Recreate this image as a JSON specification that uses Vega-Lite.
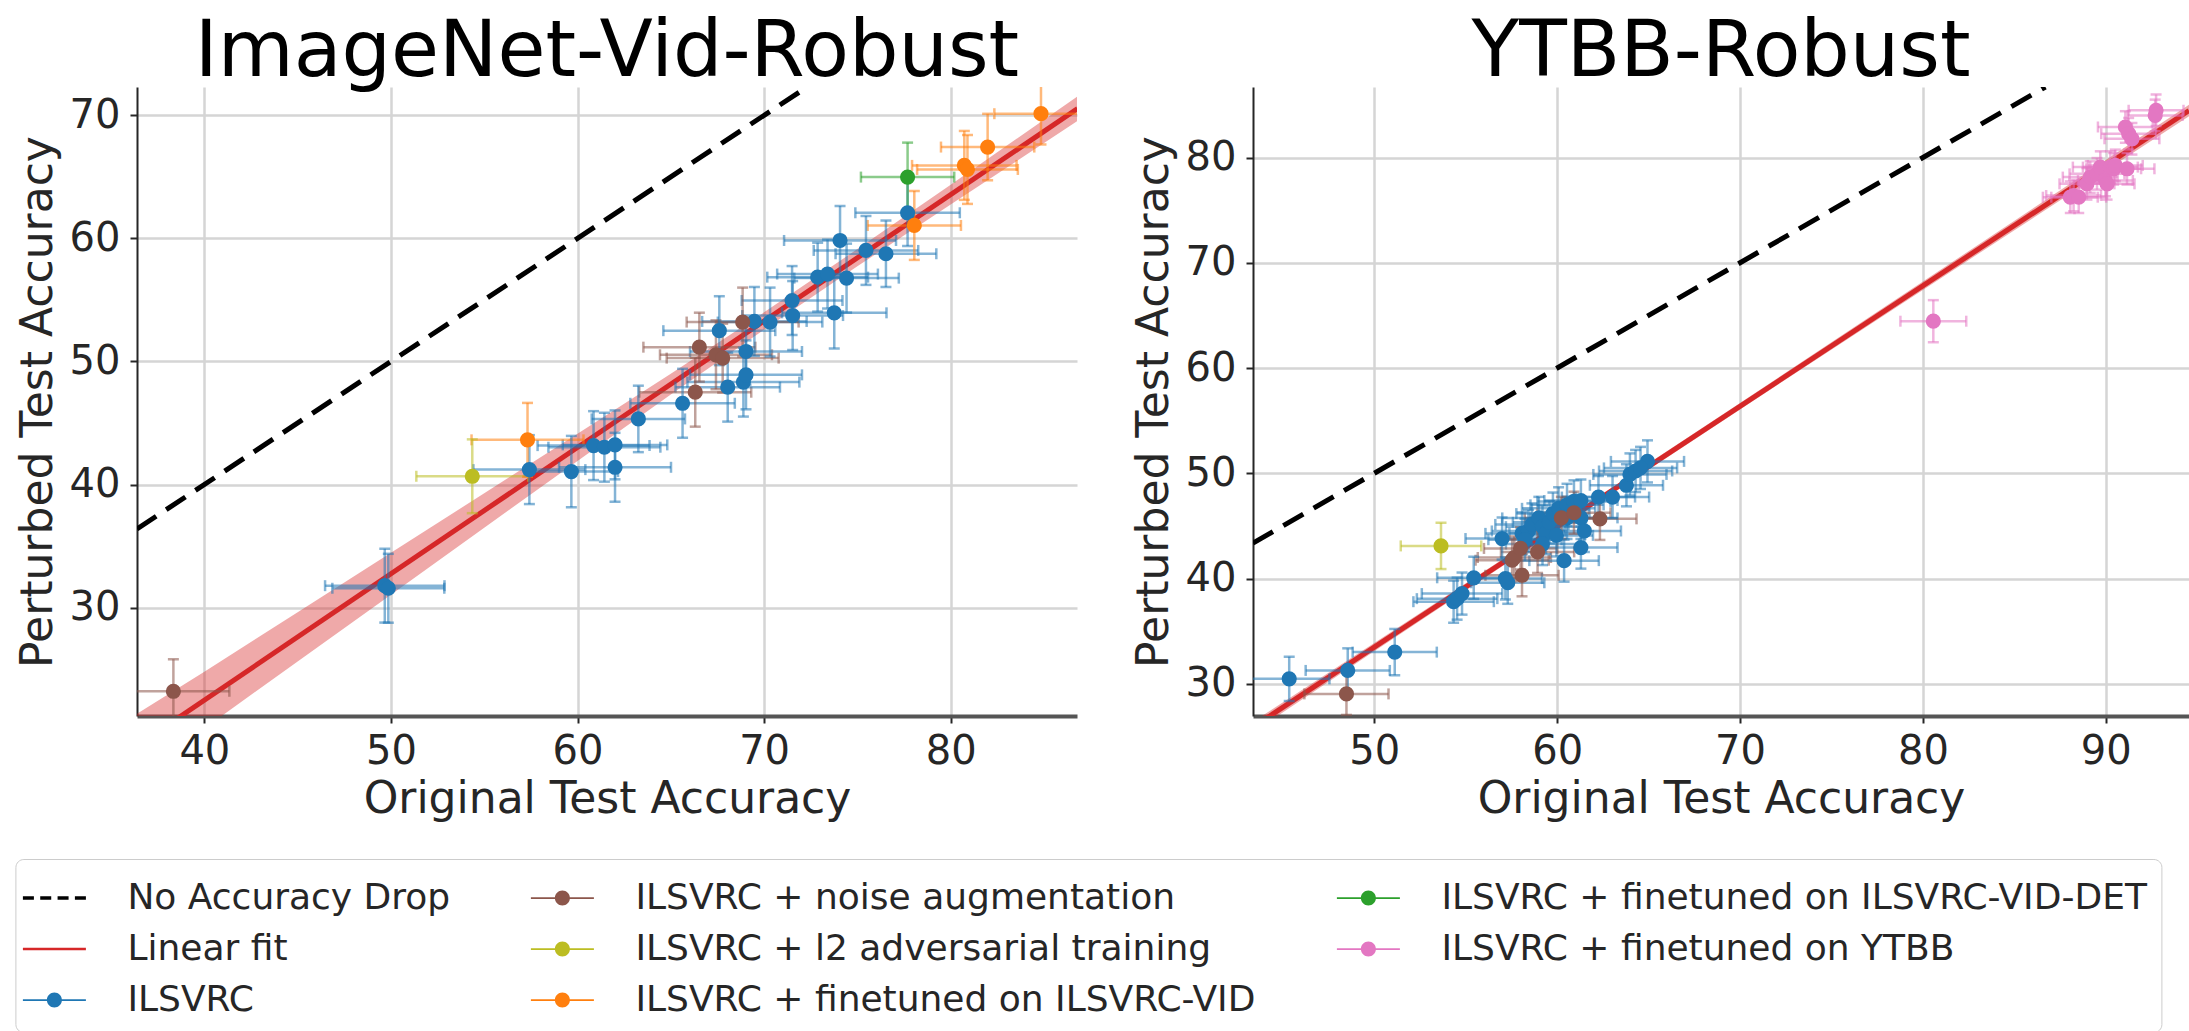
{
  "$schema": "https://vega.github.io/schema/vega-lite/v6.json",
  "usermeta": {"embedOptions": {"actions": false}},
  "background": "white",
  "padding": {"left": 14, "top": 14, "right": 0, "bottom": 0},
  "config": {
    "font": "DejaVu Sans",
    "view": {"stroke": null},
    "concat": {"spacing": 55},
    "legend": {"symbolOpacity": 1},
    "title": {"font": "DejaVu Sans", "fontSize": 78, "fontWeight": "normal", "color": "#000000", "baseline": "alphabetic", "offset": -5},
    "axis": {"labelFont": "DejaVu Sans", "labelFontSize": 40, "labelColor": "#262626", "titleFont": "DejaVu Sans", "titleFontSize": 44, "titleFontWeight": "normal", "titleColor": "#262626", "gridColor": "#d5d5d5", "gridWidth": 2.5, "tickColor": "#262626", "tickSize": 7, "tickWidth": 2, "labelPadding": 8, "domainColor": "#262626", "domainWidth": 2, "labelOverlap": false},
    "axisX": {"domainColor": "#555555", "domainWidth": 4, "titlePadding": 6},
    "axisY": {"titlePadding": 9, "labelPadding": 10}
  },
  "datasets": {
    "legendItems": [
      {"series": "No Accuracy Drop"},
      {"series": "Linear fit"},
      {"series": "ILSVRC"},
      {"series": "ILSVRC + noise augmentation"},
      {"series": "ILSVRC + l2 adversarial training"},
      {"series": "ILSVRC + finetuned on ILSVRC-VID"},
      {"series": "ILSVRC + finetuned on ILSVRC-VID-DET"},
      {"series": "ILSVRC + finetuned on YTBB"}
    ],
    "bandL": [
      {"x": 36.39, "y": 16.17, "hi": 21.37},
      {"x": 40, "y": 20.18, "hi": 24.78},
      {"x": 45, "y": 25.62, "hi": 29.62},
      {"x": 50, "y": 31.05, "hi": 34.45},
      {"x": 55, "y": 36.49, "hi": 39.29},
      {"x": 60, "y": 41.92, "hi": 44.12},
      {"x": 65, "y": 47.31, "hi": 49.01},
      {"x": 70, "y": 52.59, "hi": 53.99},
      {"x": 75, "y": 57.73, "hi": 59.13},
      {"x": 80, "y": 62.76, "hi": 64.36},
      {"x": 86.8, "y": 69.54, "hi": 71.54}
    ],
    "fitL": [{"x": 36.39, "y": 18.77}, {"x": 86.8, "y": 70.54}],
    "diagL": [{"x": 36.39, "y": 36.39}, {"x": 72.3, "y": 72.3}],
    "bandR": [
      {"x": 43.37, "y": 25.39, "hi": 26.39},
      {"x": 50, "y": 33.08, "hi": 33.88},
      {"x": 60, "y": 44.62, "hi": 45.22},
      {"x": 70, "y": 56.07, "hi": 56.67},
      {"x": 80, "y": 67.42, "hi": 68.22},
      {"x": 90, "y": 78.76, "hi": 79.76},
      {"x": 94.55, "y": 83.92, "hi": 85.02}
    ],
    "fitR": [{"x": 43.37, "y": 25.89}, {"x": 94.55, "y": 84.47}],
    "diagR": [{"x": 43.37, "y": 43.37}, {"x": 86.7, "y": 86.7}],
    "ptsL": [
      {"series": "ILSVRC", "x": 49.67, "y": 31.78, "xe": 3.2, "ye": 3.0},
      {"series": "ILSVRC", "x": 49.86, "y": 31.57, "xe": 3.0, "ye": 2.8},
      {"series": "ILSVRC", "x": 57.42, "y": 41.21, "xe": 3.0, "ye": 2.8},
      {"series": "ILSVRC", "x": 59.67, "y": 41.05, "xe": 2.5, "ye": 2.9},
      {"series": "ILSVRC", "x": 60.86, "y": 43.16, "xe": 3.0, "ye": 2.8},
      {"series": "ILSVRC", "x": 61.44, "y": 43.03, "xe": 3.0, "ye": 2.8},
      {"series": "ILSVRC", "x": 62.01, "y": 43.22, "xe": 2.8, "ye": 2.8},
      {"series": "ILSVRC", "x": 62.01, "y": 41.4, "xe": 3.0, "ye": 2.8},
      {"series": "ILSVRC", "x": 63.26, "y": 45.33, "xe": 2.5, "ye": 2.7},
      {"series": "ILSVRC", "x": 65.63, "y": 46.6, "xe": 2.8, "ye": 2.8},
      {"series": "ILSVRC", "x": 68.05, "y": 47.91, "xe": 2.8, "ye": 2.8},
      {"series": "ILSVRC", "x": 68.89, "y": 48.32, "xe": 3.0, "ye": 2.8},
      {"series": "ILSVRC", "x": 69.03, "y": 48.91, "xe": 3.0, "ye": 2.8},
      {"series": "ILSVRC", "x": 69.03, "y": 50.81, "xe": 3.0, "ye": 2.7},
      {"series": "ILSVRC", "x": 67.6, "y": 52.5, "xe": 3.0, "ye": 2.8},
      {"series": "ILSVRC", "x": 69.48, "y": 53.25, "xe": 2.8, "ye": 2.8},
      {"series": "ILSVRC", "x": 70.32, "y": 53.2, "xe": 2.8, "ye": 2.8},
      {"series": "ILSVRC", "x": 71.5, "y": 54.95, "xe": 2.7, "ye": 2.8},
      {"series": "ILSVRC", "x": 71.53, "y": 53.73, "xe": 2.7, "ye": 2.8},
      {"series": "ILSVRC", "x": 73.76, "y": 53.95, "xe": 2.8, "ye": 2.9},
      {"series": "ILSVRC", "x": 72.87, "y": 56.85, "xe": 2.7, "ye": 2.8},
      {"series": "ILSVRC", "x": 73.4, "y": 57.1, "xe": 2.7, "ye": 2.8},
      {"series": "ILSVRC", "x": 74.42, "y": 56.77, "xe": 2.8, "ye": 2.8},
      {"series": "ILSVRC", "x": 74.07, "y": 59.83, "xe": 3.0, "ye": 2.8},
      {"series": "ILSVRC", "x": 75.46, "y": 59.02, "xe": 2.8, "ye": 2.8},
      {"series": "ILSVRC", "x": 76.53, "y": 58.75, "xe": 2.7, "ye": 2.7},
      {"series": "ILSVRC", "x": 77.69, "y": 62.08, "xe": 2.8, "ye": 2.7},
      {"series": "ILSVRC + noise augmentation", "x": 38.34, "y": 23.2, "xe": 3.0, "ye": 2.6},
      {"series": "ILSVRC + noise augmentation", "x": 66.31, "y": 47.5, "xe": 3.0, "ye": 2.8},
      {"series": "ILSVRC + noise augmentation", "x": 66.53, "y": 51.16, "xe": 3.0, "ye": 2.8},
      {"series": "ILSVRC + noise augmentation", "x": 67.42, "y": 50.54, "xe": 3.0, "ye": 2.8},
      {"series": "ILSVRC + noise augmentation", "x": 67.78, "y": 50.27, "xe": 3.0, "ye": 2.8},
      {"series": "ILSVRC + noise augmentation", "x": 68.85, "y": 53.2, "xe": 3.0, "ye": 2.8},
      {"series": "ILSVRC + l2 adversarial training", "x": 54.36, "y": 40.67, "xe": 3.0, "ye": 3.0},
      {"series": "ILSVRC + finetuned on ILSVRC-VID", "x": 57.32, "y": 43.63, "xe": 3.0, "ye": 3.0},
      {"series": "ILSVRC + finetuned on ILSVRC-VID", "x": 78.05, "y": 61.05, "xe": 2.5, "ye": 2.8},
      {"series": "ILSVRC + finetuned on ILSVRC-VID", "x": 80.73, "y": 65.93, "xe": 2.8, "ye": 2.8},
      {"series": "ILSVRC + finetuned on ILSVRC-VID", "x": 80.9, "y": 65.6, "xe": 2.7, "ye": 2.8},
      {"series": "ILSVRC + finetuned on ILSVRC-VID", "x": 81.98, "y": 67.42, "xe": 2.5, "ye": 2.7},
      {"series": "ILSVRC + finetuned on ILSVRC-VID", "x": 84.84, "y": 70.13, "xe": 2.5, "ye": 2.5},
      {"series": "ILSVRC + finetuned on ILSVRC-VID-DET", "x": 77.69, "y": 64.98, "xe": 2.5, "ye": 2.8}
    ],
    "ptsR": [
      {"series": "ILSVRC", "x": 45.35, "y": 30.47, "xe": 2.2, "ye": 2.1},
      {"series": "ILSVRC", "x": 48.55, "y": 31.27, "xe": 2.3, "ye": 2.1},
      {"series": "ILSVRC", "x": 51.12, "y": 33.01, "xe": 2.3, "ye": 2.2},
      {"series": "ILSVRC", "x": 54.34, "y": 37.8, "xe": 2.2, "ye": 2.0},
      {"series": "ILSVRC", "x": 54.53, "y": 38.09, "xe": 2.2, "ye": 2.0},
      {"series": "ILSVRC", "x": 54.8, "y": 38.57, "xe": 2.2, "ye": 2.0},
      {"series": "ILSVRC", "x": 55.44, "y": 40.07, "xe": 2.0, "ye": 2.0},
      {"series": "ILSVRC", "x": 56.99, "y": 43.8, "xe": 2.0, "ye": 2.0},
      {"series": "ILSVRC", "x": 57.17, "y": 40.0, "xe": 2.0, "ye": 2.0},
      {"series": "ILSVRC", "x": 57.3, "y": 39.6, "xe": 2.0, "ye": 2.0},
      {"series": "ILSVRC", "x": 58.08, "y": 44.29, "xe": 2.0, "ye": 2.0},
      {"series": "ILSVRC", "x": 60.38, "y": 41.7, "xe": 1.9, "ye": 2.0},
      {"series": "ILSVRC", "x": 61.3, "y": 42.94, "xe": 2.0, "ye": 2.0},
      {"series": "ILSVRC", "x": 58.43, "y": 44.52, "xe": 2.0, "ye": 2.0},
      {"series": "ILSVRC", "x": 58.62, "y": 45.14, "xe": 2.0, "ye": 2.0},
      {"series": "ILSVRC", "x": 59.0, "y": 45.76, "xe": 2.0, "ye": 2.0},
      {"series": "ILSVRC", "x": 59.2, "y": 44.93, "xe": 2.0, "ye": 2.0},
      {"series": "ILSVRC", "x": 59.39, "y": 44.31, "xe": 2.0, "ye": 2.0},
      {"series": "ILSVRC", "x": 59.58, "y": 45.34, "xe": 2.0, "ye": 2.0},
      {"series": "ILSVRC", "x": 59.77, "y": 46.17, "xe": 2.0, "ye": 2.0},
      {"series": "ILSVRC", "x": 60.08, "y": 46.67, "xe": 2.0, "ye": 2.0},
      {"series": "ILSVRC", "x": 60.54, "y": 47.0, "xe": 2.0, "ye": 2.0},
      {"series": "ILSVRC", "x": 60.92, "y": 47.33, "xe": 2.0, "ye": 2.0},
      {"series": "ILSVRC", "x": 61.3, "y": 47.41, "xe": 2.0, "ye": 2.0},
      {"series": "ILSVRC", "x": 61.3, "y": 45.76, "xe": 2.0, "ye": 2.0},
      {"series": "ILSVRC", "x": 61.49, "y": 44.52, "xe": 2.0, "ye": 2.0},
      {"series": "ILSVRC", "x": 60.54, "y": 45.76, "xe": 2.0, "ye": 2.0},
      {"series": "ILSVRC", "x": 59.96, "y": 44.1, "xe": 2.0, "ye": 2.0},
      {"series": "ILSVRC", "x": 59.2, "y": 43.28, "xe": 2.0, "ye": 2.0},
      {"series": "ILSVRC", "x": 58.24, "y": 43.69, "xe": 2.0, "ye": 2.0},
      {"series": "ILSVRC", "x": 62.26, "y": 47.74, "xe": 2.0, "ye": 2.0},
      {"series": "ILSVRC", "x": 63.03, "y": 47.74, "xe": 2.0, "ye": 2.0},
      {"series": "ILSVRC", "x": 63.79, "y": 48.86, "xe": 2.0, "ye": 2.0},
      {"series": "ILSVRC", "x": 63.98, "y": 49.89, "xe": 2.0, "ye": 2.0},
      {"series": "ILSVRC", "x": 64.29, "y": 50.22, "xe": 2.0, "ye": 2.0},
      {"series": "ILSVRC", "x": 64.94, "y": 51.13, "xe": 2.0, "ye": 2.0},
      {"series": "ILSVRC", "x": 64.56, "y": 50.51, "xe": 2.0, "ye": 2.0},
      {"series": "ILSVRC + noise augmentation", "x": 48.48, "y": 29.04, "xe": 2.3, "ye": 2.0},
      {"series": "ILSVRC + noise augmentation", "x": 57.54, "y": 41.74, "xe": 2.0, "ye": 2.0},
      {"series": "ILSVRC + noise augmentation", "x": 57.66, "y": 42.0, "xe": 2.0, "ye": 2.0},
      {"series": "ILSVRC + noise augmentation", "x": 58.0, "y": 42.86, "xe": 2.0, "ye": 2.0},
      {"series": "ILSVRC + noise augmentation", "x": 58.08, "y": 40.31, "xe": 2.0, "ye": 2.0},
      {"series": "ILSVRC + noise augmentation", "x": 58.93, "y": 42.53, "xe": 2.0, "ye": 2.0},
      {"series": "ILSVRC + noise augmentation", "x": 60.23, "y": 45.76, "xe": 2.0, "ye": 2.0},
      {"series": "ILSVRC + noise augmentation", "x": 60.92, "y": 46.25, "xe": 2.0, "ye": 2.0},
      {"series": "ILSVRC + noise augmentation", "x": 62.34, "y": 45.67, "xe": 2.0, "ye": 2.0},
      {"series": "ILSVRC + l2 adversarial training", "x": 53.65, "y": 43.1, "xe": 2.2, "ye": 2.2},
      {"series": "ILSVRC + finetuned on YTBB", "x": 80.57, "y": 64.45, "xe": 1.8, "ye": 2.0},
      {"series": "ILSVRC + finetuned on YTBB", "x": 88.06, "y": 76.23, "xe": 1.5, "ye": 1.5},
      {"series": "ILSVRC + finetuned on YTBB", "x": 88.24, "y": 76.39, "xe": 1.5, "ye": 1.5},
      {"series": "ILSVRC + finetuned on YTBB", "x": 88.52, "y": 76.23, "xe": 1.5, "ye": 1.5},
      {"series": "ILSVRC + finetuned on YTBB", "x": 88.97, "y": 77.5, "xe": 1.5, "ye": 1.5},
      {"series": "ILSVRC + finetuned on YTBB", "x": 89.15, "y": 78.14, "xe": 1.5, "ye": 1.5},
      {"series": "ILSVRC + finetuned on YTBB", "x": 89.52, "y": 78.45, "xe": 1.5, "ye": 1.5},
      {"series": "ILSVRC + finetuned on YTBB", "x": 89.7, "y": 79.09, "xe": 1.5, "ye": 1.5},
      {"series": "ILSVRC + finetuned on YTBB", "x": 89.98, "y": 77.82, "xe": 1.5, "ye": 1.5},
      {"series": "ILSVRC + finetuned on YTBB", "x": 90.07, "y": 77.5, "xe": 1.5, "ye": 1.5},
      {"series": "ILSVRC + finetuned on YTBB", "x": 90.25, "y": 79.09, "xe": 1.5, "ye": 1.5},
      {"series": "ILSVRC + finetuned on YTBB", "x": 90.43, "y": 78.93, "xe": 1.5, "ye": 1.5},
      {"series": "ILSVRC + finetuned on YTBB", "x": 90.52, "y": 79.25, "xe": 1.5, "ye": 1.5},
      {"series": "ILSVRC + finetuned on YTBB", "x": 91.16, "y": 78.93, "xe": 1.5, "ye": 1.5},
      {"series": "ILSVRC + finetuned on YTBB", "x": 91.07, "y": 82.9, "xe": 1.5, "ye": 1.5},
      {"series": "ILSVRC + finetuned on YTBB", "x": 91.25, "y": 82.26, "xe": 1.5, "ye": 1.5},
      {"series": "ILSVRC + finetuned on YTBB", "x": 91.43, "y": 81.78, "xe": 1.5, "ye": 1.5},
      {"series": "ILSVRC + finetuned on YTBB", "x": 92.75, "y": 84.49, "xe": 1.5, "ye": 1.5},
      {"series": "ILSVRC + finetuned on YTBB", "x": 92.7, "y": 84.0, "xe": 1.5, "ye": 1.5}
    ]
  },
  "hconcat": [
    {
      "title": {"text": "ImageNet-Vid-Robust"},
      "width": 940,
      "height": 629,
      "encoding": {
        "x": {"field": "x", "type": "quantitative", "scale": {"domain": [36.39, 86.77], "nice": false, "zero": false}, "axis": {"title": "Original Test Accuracy", "values": [40, 50, 60, 70, 80]}},
        "y": {"field": "y", "type": "quantitative", "scale": {"domain": [21.19, 72.3], "nice": false, "zero": false}, "axis": {"title": "Perturbed Test Accuracy", "values": [30, 40, 50, 60, 70]}}
      },
      "layer": [
        {"data": {"name": "bandL"}, "mark": {"type": "area", "color": "#d62728", "opacity": 0.4, "clip": true}, "encoding": {"y2": {"field": "hi"}}},
        {"data": {"name": "fitL"}, "mark": {"type": "line", "color": "#d62728", "strokeWidth": 5, "clip": true}, "encoding": {}},
        {"data": {"name": "diagL"}, "mark": {"type": "line", "color": "#000000", "strokeWidth": 5, "strokeDash": [23, 12], "clip": true}, "encoding": {}},
        {
          "data": {"name": "legendItems"},
          "mark": {"type": "point", "filled": true, "opacity": 0},
          "encoding": {
            "color": {
              "field": "series", "type": "nominal",
              "scale": {"domain": ["No Accuracy Drop", "Linear fit", "ILSVRC", "ILSVRC + noise augmentation", "ILSVRC + l2 adversarial training", "ILSVRC + finetuned on ILSVRC-VID", "ILSVRC + finetuned on ILSVRC-VID-DET", "ILSVRC + finetuned on YTBB"], "range": ["#000000", "#d62728", "#1f77b4", "#8c564b", "#bcbd22", "#ff7f0e", "#2ca02c", "#e377c2"]},
              "legend": {"orient": "none", "legendX": -121.6, "legendY": 772, "columns": 3, "columnPadding": 80, "rowPadding": 8, "title": null, "labelFont": "DejaVu Sans", "labelFontSize": 36, "labelColor": "#262626", "labelLimit": 0, "labelOffset": 48, "symbolSize": 2500, "symbolStrokeWidth": 0, "symbolOpacity": 1, "strokeColor": "#cccccc", "fillColor": "white", "cornerRadius": 8, "padding": 14}
            },
            "shape": {
              "field": "series", "type": "nominal",
              "scale": {"domain": ["No Accuracy Drop", "Linear fit", "ILSVRC", "ILSVRC + noise augmentation", "ILSVRC + l2 adversarial training", "ILSVRC + finetuned on ILSVRC-VID", "ILSVRC + finetuned on ILSVRC-VID-DET", "ILSVRC + finetuned on YTBB"],
                "range": [
                  "M-1.26,-0.07H-0.82V0.07H-1.26Z M-0.567,-0.07H-0.127V0.07H-0.567Z M0.127,-0.07H0.567V0.07H0.127Z M0.82,-0.07H1.26V0.07H0.82Z",
                  "M-1.26,-0.05H1.26V0.05H-1.26Z",
                  "M-1.26,-0.035H1.26V0.035H-1.26Z M0.3,0A0.3,0.3 0 1,1 -0.3,0A0.3,0.3 0 1,1 0.3,0Z",
                  "M-1.26,-0.035H1.26V0.035H-1.26Z M0.3,0A0.3,0.3 0 1,1 -0.3,0A0.3,0.3 0 1,1 0.3,0Z",
                  "M-1.26,-0.035H1.26V0.035H-1.26Z M0.3,0A0.3,0.3 0 1,1 -0.3,0A0.3,0.3 0 1,1 0.3,0Z",
                  "M-1.26,-0.035H1.26V0.035H-1.26Z M0.3,0A0.3,0.3 0 1,1 -0.3,0A0.3,0.3 0 1,1 0.3,0Z",
                  "M-1.26,-0.035H1.26V0.035H-1.26Z M0.3,0A0.3,0.3 0 1,1 -0.3,0A0.3,0.3 0 1,1 0.3,0Z",
                  "M-1.26,-0.035H1.26V0.035H-1.26Z M0.3,0A0.3,0.3 0 1,1 -0.3,0A0.3,0.3 0 1,1 0.3,0Z"
                ]},
              "legend": {"orient": "none", "legendX": -121.6, "legendY": 772, "columns": 3, "columnPadding": 80, "rowPadding": 8, "title": null, "labelFont": "DejaVu Sans", "labelFontSize": 36, "labelColor": "#262626", "labelLimit": 0, "labelOffset": 48, "symbolSize": 2500, "symbolStrokeWidth": 0, "symbolOpacity": 1, "strokeColor": "#cccccc", "fillColor": "white", "cornerRadius": 8, "padding": 14}
            }
          }
        },
        {
          "data": {"name": "ptsL"},
          "mark": {"type": "errorbar", "ticks": {"size": 11, "thickness": 2.5}, "rule": {"strokeWidth": 2.5}, "opacity": 0.55, "clip": true},
          "encoding": {"xError": {"field": "xe"}, "color": {"field": "series", "type": "nominal", "scale": {"domain": ["No Accuracy Drop", "Linear fit", "ILSVRC", "ILSVRC + noise augmentation", "ILSVRC + l2 adversarial training", "ILSVRC + finetuned on ILSVRC-VID", "ILSVRC + finetuned on ILSVRC-VID-DET", "ILSVRC + finetuned on YTBB"], "range": ["#000000", "#d62728", "#1f77b4", "#8c564b", "#bcbd22", "#ff7f0e", "#2ca02c", "#e377c2"]}}}
        },
        {
          "data": {"name": "ptsL"},
          "mark": {"type": "errorbar", "ticks": {"size": 11, "thickness": 2.5}, "rule": {"strokeWidth": 2.5}, "opacity": 0.55, "clip": true},
          "encoding": {"yError": {"field": "ye"}, "color": {"field": "series", "type": "nominal", "scale": {"domain": ["No Accuracy Drop", "Linear fit", "ILSVRC", "ILSVRC + noise augmentation", "ILSVRC + l2 adversarial training", "ILSVRC + finetuned on ILSVRC-VID", "ILSVRC + finetuned on ILSVRC-VID-DET", "ILSVRC + finetuned on YTBB"], "range": ["#000000", "#d62728", "#1f77b4", "#8c564b", "#bcbd22", "#ff7f0e", "#2ca02c", "#e377c2"]}}}
        },
        {
          "data": {"name": "ptsL"},
          "mark": {"type": "circle", "size": 230, "opacity": 1, "clip": true},
          "encoding": {"color": {"field": "series", "type": "nominal", "scale": {"domain": ["No Accuracy Drop", "Linear fit", "ILSVRC", "ILSVRC + noise augmentation", "ILSVRC + l2 adversarial training", "ILSVRC + finetuned on ILSVRC-VID", "ILSVRC + finetuned on ILSVRC-VID-DET", "ILSVRC + finetuned on YTBB"], "range": ["#000000", "#d62728", "#1f77b4", "#8c564b", "#bcbd22", "#ff7f0e", "#2ca02c", "#e377c2"]}}}
        }
      ]
    },
    {
      "title": {"text": "YTBB-Robust"},
      "width": 936,
      "height": 629,
      "encoding": {
        "x": {"field": "x", "type": "quantitative", "scale": {"domain": [43.37, 94.55], "nice": false, "zero": false}, "axis": {"title": "Original Test Accuracy", "values": [50, 60, 70, 80, 90]}},
        "y": {"field": "y", "type": "quantitative", "scale": {"domain": [26.94, 86.7], "nice": false, "zero": false}, "axis": {"title": "Perturbed Test Accuracy", "values": [30, 40, 50, 60, 70, 80]}}
      },
      "layer": [
        {"data": {"name": "bandR"}, "mark": {"type": "area", "color": "#d62728", "opacity": 0.4, "clip": true}, "encoding": {"y2": {"field": "hi"}}},
        {"data": {"name": "fitR"}, "mark": {"type": "line", "color": "#d62728", "strokeWidth": 5, "clip": true}, "encoding": {}},
        {"data": {"name": "diagR"}, "mark": {"type": "line", "color": "#000000", "strokeWidth": 5, "strokeDash": [23, 12], "clip": true}, "encoding": {}},
        {
          "data": {"name": "ptsR"},
          "mark": {"type": "errorbar", "ticks": {"size": 11, "thickness": 2.5}, "rule": {"strokeWidth": 2.5}, "opacity": 0.55, "clip": true},
          "encoding": {"xError": {"field": "xe"}, "color": {"field": "series", "type": "nominal", "scale": {"domain": ["No Accuracy Drop", "Linear fit", "ILSVRC", "ILSVRC + noise augmentation", "ILSVRC + l2 adversarial training", "ILSVRC + finetuned on ILSVRC-VID", "ILSVRC + finetuned on ILSVRC-VID-DET", "ILSVRC + finetuned on YTBB"], "range": ["#000000", "#d62728", "#1f77b4", "#8c564b", "#bcbd22", "#ff7f0e", "#2ca02c", "#e377c2"]}}}
        },
        {
          "data": {"name": "ptsR"},
          "mark": {"type": "errorbar", "ticks": {"size": 11, "thickness": 2.5}, "rule": {"strokeWidth": 2.5}, "opacity": 0.55, "clip": true},
          "encoding": {"yError": {"field": "ye"}, "color": {"field": "series", "type": "nominal", "scale": {"domain": ["No Accuracy Drop", "Linear fit", "ILSVRC", "ILSVRC + noise augmentation", "ILSVRC + l2 adversarial training", "ILSVRC + finetuned on ILSVRC-VID", "ILSVRC + finetuned on ILSVRC-VID-DET", "ILSVRC + finetuned on YTBB"], "range": ["#000000", "#d62728", "#1f77b4", "#8c564b", "#bcbd22", "#ff7f0e", "#2ca02c", "#e377c2"]}}}
        },
        {
          "data": {"name": "ptsR"},
          "mark": {"type": "circle", "size": 230, "opacity": 1, "clip": true},
          "encoding": {"color": {"field": "series", "type": "nominal", "scale": {"domain": ["No Accuracy Drop", "Linear fit", "ILSVRC", "ILSVRC + noise augmentation", "ILSVRC + l2 adversarial training", "ILSVRC + finetuned on ILSVRC-VID", "ILSVRC + finetuned on ILSVRC-VID-DET", "ILSVRC + finetuned on YTBB"], "range": ["#000000", "#d62728", "#1f77b4", "#8c564b", "#bcbd22", "#ff7f0e", "#2ca02c", "#e377c2"]}}}
        }
      ]
    }
  ]
}
